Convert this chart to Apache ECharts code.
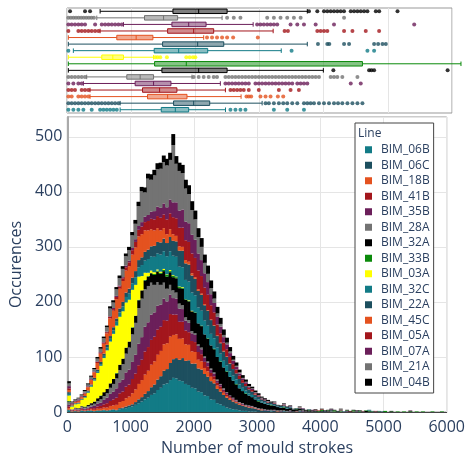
<!DOCTYPE html>
<html><head><meta charset="utf-8">
<script src="https://cdn.jsdelivr.net/npm/echarts/dist/echarts.min.js"></script>
<style>html,body{margin:0;padding:0;background:#fff}#c{width:468px;height:461px}</style>
</head><body><div id="c"></div><script>
// ---------- DATA ----------
const LINES = ['BIM_06B','BIM_06C','BIM_18B','BIM_41B','BIM_35B','BIM_28A','BIM_32A','BIM_33B','BIM_03A','BIM_32C','BIM_22A','BIM_45C','BIM_05A','BIM_07A','BIM_21A','BIM_04B'];
const BIN_WIDTH = 50;   // histogram bin width (mould strokes)
const N_BINS = 120;     // 0 .. 6000
const X_TICKS = [0,1000,2000,3000,4000,5000,6000];

// histogram counts per bin (bin i = [50*i, 50*i+50))
const H_06B = [3,1,1,1,2,1,2,2,1,2, 2,3,2,3,4,3,5,6,7,9, 10,13,16,19,23,26,31,34,40,44, 50,52,58,62,61,57,56,51,49,44, 43,37,36,30,29,23,22,16,14,11, 8,6,5,4,3,2,2,1,1,1, 0,0,0,0,1,0,0,0,1,0, 0,0,0,1];
const H_06C = [1,0,1,0,1,1,1,1,1,1, 1,1,1,1,1,1,2,2,3,3, 4,5,7,8,10,12,14,16,19,21, 25,26,31,34,37,38,42,42,45,44, 45,42,41,39,35,33,30,26,23,20, 18,16,14,12,10,9,8,7,6,5, 4,3,3,2,2,2,1,1,1,1, 1,1,0,1,1,0,1,0,1,0, 1,0,0,1,0,1,0,0,1,0, 0,1,1];
const H_18B = [3,1,1,1,1,1,1,2,2,3, 3,4,5,7,7,9,11,12,15,16, 20,23,28,31,35,37,41,42,45,46, 48,47,48,44,43,38,36,30,28,22, 21,16,15,11,10,8,7,6,5,4, 3,3,2,2,2,1,1,1,1,1, 1,1,0,0,0,0,1];
const H_41B = [3,1,1,1,2,1,2,2,3,4, 5,6,8,9,11,13,16,17,21,22, 26,29,34,37,42,43,45,45,46,44, 44,41,41,37,36,31,30,25,23,19, 18,14,13,11,9,7,6,5,4,3, 3,2,2,1,1,1,0,1,1,0, 0,1,0,0,0,0,0,0,0,0, 0,0,1];
const H_35B = [3,1,1,1,2,2,2,3,4,5, 6,8,10,13,14,17,20,22,26,27, 31,34,39,41,45,45,46,44,43,40, 39,35,35,30,29,24,23,18,17,14, 13,11,9,8,7,6,5,4,4,3, 3,2,2,2,1,2,1,1,1,1, 1,0,1,1,0,1,0,1,0,0, 1,0,0,0,1,0,0,0,0,0, 0,0,0,0,0,0,0,0,1,0, 0,1];
const H_28A = [5,1,2,2,2,2,3,3,4,5, 6,7,8,11,14,18,22,28,34,40, 50,58,65,70,68,66,58,50,43,36, 29,23,18,14,11,9,7,6,5,4, 3,3,3,2,2,2,2,2,1,2, 1,1,1,1,1,1,1,1,1,1, 1,1,1,1,1,1,1,1,1,1, 1,0,1,1,1,1,0,1,0,0, 0,0,1,1,1,0,1,0,0,0, 1];
const H_32A = [1,0,1,1,1,1,2,3,4,5, 6,7,8,8,9,9,10,10,11,11, 12,13,14,15,16,17,17,18,19,20, 21,22,23,24,26,28,30,32,34,36, 37,38,39,40,41,42,42,41,40,38, 37,34,31,28,25,22,20,18,16,14, 12,11,10,9,8,7,6,5,5,4, 4,3,3,3,2,2,2,2,1,1, 1,1,1,1,0,0,0,0,0,0, 0,0,0,0,2,1,0,0,0,0, 0,0,0,0,0,0,0,0,1];
const H_33B = [1,0,0,0,0,1,0,0,0,0, 1,0,0,0,0,1,0,0,0,0, 1,0,1,0,1,1,1,2,2,2, 2,3,2,3,2,2,2,1,1,0, 1,0,1,0,1,0,1,0,1,0, 1,0,0,1,0,0,1,0,0,0, 1,0,0,0,1,0,0,0,1,0, 0,0,1,0,0,0,1,0,0,1, 2,0,1,0,2,0,1,0,1,0, 2,0,1,0,1,1,1,0,1,0, 2,0,1,0,1,0,1,0,1,0, 1,0,1,0,0,1,0,0,1,0];
const H_03A = [10,5,6,8,11,16,22,30,38,46, 54,62,70,76,82,86,87,86,82,76, 68,56,42,26,13,6,4,3,2,2, 2,1,2,1,1,1,1,0,1,1];
const H_32C = [3,1,1,1,1,1,2,2,2,3, 3,4,5,5,6,7,8,9,10,11, 12,14,17,20,22,25,26,28,29,31, 32,33,34,35,36,36,36,35,34,33, 31,29,27,25,23,21,19,17,14,12, 11,10,9,8,7,6,5,4,4,3, 3,2,2,1,1,1,1,1,1,1, 1,0,0,0,0,0,0,0,0,0, 0,0,0,0,0,0,0,0,0,0, 0,0,0,1,0,1];
const H_22A = [3,1,1,1,1,2,2,2,3,3, 4,4,5,5,6,6,7,8,8,9, 10,11,13,14,16,17,18,20,21,22, 23,24,26,27,28,29,30,30,31,31, 30,30,29,28,27,25,23,21,19,17, 15,14,12,11,10,9,8,7,6,5, 5,4,4,3,3,3,2,2,2,2, 2,1,1,1,1,0,1,0,1,0, 0,1,0,1,0,0,1,1,0,0, 0,0,0,0,0,1,1,1,1,1];
const H_45C = [4,1,2,3,3,4,6,8,10,12, 15,18,21,32,30,35,36,38,40,41, 42,43,43,42,39,35,31,28,25,22, 19,16,14,12,10,8,7,6,5,4, 3,3,2,2,1,1,1,1,1,1, 1,1,0,0,0,0,0,0,0,1];
const H_05A = [3,1,1,1,1,1,1,1,1,2, 2,2,2,3,3,4,4,5,6,7, 8,10,12,14,15,17,19,20,22,23, 25,27,29,31,32,34,35,36,36,36, 35,34,32,30,28,26,23,20,17,15, 13,11,9,7,6,5,4,3,3,2, 2,1,1,1,0,1,0,0,1,0, 0,0,0,1,0,0,0,0,1,1, 1,0,0,0,0,0,1,0,0,1, 0,0,0,1,0,0,0,1];
const H_07A = [4,2,1,2,1,1,1,1,1,1, 1,1,1,1,2,2,2,2,3,3, 4,5,7,8,10,11,13,15,17,18, 20,22,25,27,29,31,33,34,34,34, 33,31,29,26,23,20,17,14,12,10, 9,7,6,5,4,3,3,2,2,1, 1,1,1,1,0,1,0,0,1,0, 1,0,0,0,1,0,0,1,0,0, 0,0,0,1,0,0,0,0,0,0, 0,0,0,0,0,0,0,0,0,0, 0,0,0,0,0,0,0,0,1];
const H_21A = [5,2,2,2,2,3,3,4,4,5, 6,7,8,14,10,12,13,15,17,19, 23,28,36,56,44,66,58,65,68,71, 75,76,72,104,70,72,66,60,53,45, 37,30,24,19,15,11,8,6,5,4, 3,3,2,2,2,1,1,1,1,1, 0,1,0,1,0,1,0,0,1,0, 0,0,0,1,0,0,0,0,0,0, 0,0,0,0,0,0,1];
const H_04B = [4,1,1,1,1,2,2,2,2,3, 3,3,3,4,4,4,5,5,5,6, 6,7,8,8,9,9,10,10,11,11, 12,12,13,20,14,15,15,16,16,16, 16,16,16,15,15,14,13,12,11,10, 9,8,7,6,5,5,4,4,3,3, 3,2,2,2,2,1,1,1,1,1, 1,1,0,1,0,1,0,0,1,0, 1,1,1,1,1,1,1,0,1,1, 1,1,1,0,0,0,0,0,0,0, 0,0,1];

// box plot stats: [lower whisker, Q1, median, Q3, upper whisker]
const BOX_06B = [828,1469,1688,1896,2470];
const BOX_06C = [828,1661,1974,2224,3041];
const BOX_18B = [359,1255,1568,1870,2713];
const BOX_41B = [359,1177,1443,1713,2469];
const BOX_35B = [255,1062,1349,1620,2390];
const BOX_28A = [307,932,1140,1349,1948];
const BOX_32A = [21,1479,2052,2495,3995];
const BOX_33B = [21,1365,1859,4604,6140];
const BOX_03A = [21,542,714,880,1349];
const BOX_32C = [99,1359,1740,2193,3339];
const BOX_22A = [21,1490,2036,2443,3745];
const BOX_45C = [21,776,1078,1339,2130];
const BOX_05A = [516,1568,1974,2286,3213];
const BOX_07A = [880,1635,1896,2167,2901];
const BOX_21A = [464,1208,1505,1724,2417];
const BOX_04B = [516,1651,2052,2495,3745];

// box plot outliers
const OUT_06B = [21,99,177,255,385,516,568,620,672,724,776,2547,2625,2703,2781,3224,3432,3693];
const OUT_06C = [21,73,125,177,229,281,333,385,438,490,542,594,646,698,750,802,3094,3146,3224,3302,3370,3432,3510,3589,3693,3745,3797,3849,3927,4005,4083,4161,4224,4291,4370,4448,4526,4604];
const OUT_18B = [21,73,177,229,281,333,2797,2833,2870,3015,3094,3172,3286,3370];
const OUT_41B = [21,73,125,229,281,333,2547,2599,2651,2703,2755,2833,2989,3302,3484,3614];
const OUT_35B = [21,99,177,229,2469,2521,2573,2625,2677,2729,2781,2833,2937,2989,3041,3094,3146,3198,3250,3302,3354,3406,3458,3510,3589,3641,3693,3745,4422,4578];
const OUT_28A = [21,73,125,177,229,281,1974,2052,2130,2208,2286,2338,2469,2521,2573,2625,2677,2729,2781,2833,2885,2937,2989,3041,3094,3146,3198,3250,3302,3354,3406,3458,3510,3562,3614,3666,3718,3771,3823,3875,3927,4109,4161,4213,4291,4526];
const OUT_32A = [4151,4708,4745,4786,5932];
const OUT_33B = [];
const OUT_03A = [1375,1411,1453,1557,1859,1911,1963,2000];
const OUT_32C = [21,3500,4682,4786];
const OUT_22A = [3911,4057,4088,4318,4396,4786,4849,4917,4969];
const OUT_45C = [2182,2260,2338,2417,2495,2589,2974];
const OUT_05A = [21,177,229,281,333,385,438,490,3391,3443,3901,3953,4005,4057,4318,4448,4656,4864];
const OUT_07A = [21,73,125,177,229,281,438,542,594,646,698,750,802,854,2963,3015,3067,3120,3172,3224,3276,3484,3589,3693,3875,4161,5411];
const OUT_21A = [20,60,100,140,180,220,260,300,340,380,420,2495,2599,2703,3120,3224,3328,3432,3536,3641,4318];
const OUT_04B = [47,281,359,3771,3901,4005,4057,4109,4161,4213,4265,4317,4422,4474,4526,4578,4630,4682,4813,4865,5151];

// ---------- STYLE ----------
const TEAL='#127b86', SLATE='#1d4f5f', ORANGE='#e4521f', RED='#a3161c', PURPLE='#6b1f5a', GRAY='#737373', BLACK='#000000', GREEN='#0b8a0b', YELLOW='#ffff00';
const COLORS = [TEAL,SLATE,ORANGE,RED,PURPLE,GRAY,BLACK,GREEN,YELLOW,TEAL,SLATE,ORANGE,RED,PURPLE,GRAY,BLACK];
const TXT = '#2a3f5f';
const FONT = '"Open Sans", sans-serif';
const Y_MAX = 536;
const BAR_PX = 3.9;   // slightly wider than a bin so adjacent bins have no seams

const HIST = [H_06B,H_06C,H_18B,H_41B,H_35B,H_28A,H_32A,H_33B,H_03A,H_32C,H_22A,H_45C,H_05A,H_07A,H_21A,H_04B];
const BOXES = [BOX_06B,BOX_06C,BOX_18B,BOX_41B,BOX_35B,BOX_28A,BOX_32A,BOX_33B,BOX_03A,BOX_32C,BOX_22A,BOX_45C,BOX_05A,BOX_07A,BOX_21A,BOX_04B];
const OUTS = [OUT_06B,OUT_06C,OUT_18B,OUT_41B,OUT_35B,OUT_28A,OUT_32A,OUT_33B,OUT_03A,OUT_32C,OUT_22A,OUT_45C,OUT_05A,OUT_07A,OUT_21A,OUT_04B];

const binStarts = [];
for (let i = 0; i < N_BINS; i++) binStarts.push(i * BIN_WIDTH);
function pad(a){ const r = a.slice(); while (r.length < N_BINS) r.push(0); return r; }
function rgba(hex, a){ const n = parseInt(hex.slice(1),16); return 'rgba('+((n>>16)&255)+','+((n>>8)&255)+','+(n&255)+','+a+')'; }

const series = [];
LINES.forEach((name, i) => {
  series.push({
    type:'bar', name, xAxisIndex:1, yAxisIndex:1, stack:'all',
    data: pad(HIST[i]), barWidth:BAR_PX,
    itemStyle:{color:COLORS[i]}, emphasis:{disabled:true}
  });
});
series.push({
  type:'boxplot', name:'box', xAxisIndex:0, yAxisIndex:0, boxWidth:[4.5,4.5], silent:true,
  data: BOXES.map((b,i)=>({value:b, itemStyle:{color:rgba(COLORS[i],0.5), borderColor:COLORS[i], borderWidth:1}}))
});
OUTS.forEach((o,i) => {
  series.push({
    type:'scatter', name:'out'+i, xAxisIndex:0, yAxisIndex:0, symbolSize:4, silent:true,
    data: o.map(v => [v, i]), itemStyle:{color:COLORS[i]}
  });
});

const chart = echarts.init(document.getElementById('c'), null, {renderer:'canvas'});
chart.setOption({
  animation:false,
  backgroundColor:'#fff',
  textStyle:{fontFamily:FONT},
  grid:[
    {left:67, right:16, top:8, height:105, show:true, borderColor:'#999', borderWidth:1},
    {left:67, right:16, top:117, bottom:48, show:true, borderColor:'#999', borderWidth:1}
  ],
  xAxis:[
    {gridIndex:0, type:'value', min:X_TICKS[0], max:X_TICKS[X_TICKS.length-1], interval:1000,
     axisLabel:{show:false}, axisTick:{show:false}, axisLine:{show:false},
     splitLine:{lineStyle:{color:'#e5e5e5'}}},
    {gridIndex:1, type:'category', data:binStarts, show:false},
    {gridIndex:1, type:'value', min:X_TICKS[0], max:X_TICKS[X_TICKS.length-1], interval:1000, position:'bottom',
     axisLine:{onZero:false, lineStyle:{color:'#444', width:1}}, axisTick:{show:false},
     axisLabel:{color:TXT, fontSize:16, margin:7, fontFamily:FONT, formatter:v => String(v)},
     splitLine:{lineStyle:{color:'#e5e5e5'}},
     name:'Number of mould strokes', nameLocation:'middle', nameGap:28,
     nameTextStyle:{color:TXT, fontSize:16, fontFamily:FONT}}
  ],
  yAxis:[
    {gridIndex:0, type:'category', data:LINES, show:false},
    {gridIndex:1, type:'value', min:0, max:Y_MAX, interval:100,
     axisLine:{show:true, lineStyle:{color:'#aaa', width:2}}, axisTick:{show:false},
     axisLabel:{color:TXT, fontSize:16, margin:5, showMaxLabel:false, fontFamily:FONT, formatter:v => String(v)},
     splitLine:{lineStyle:{color:'#e5e5e5'}},
     name:'Occurences', nameLocation:'middle', nameGap:38,
     nameTextStyle:{color:TXT, fontSize:16, fontFamily:FONT}}
  ],
  legend:{
    data:LINES, orient:'vertical', left:355, top:123, padding:[19,4,3,10],
    itemGap:0, itemWidth:7, itemHeight:7, icon:'rect', selectedMode:false,
    borderColor:'#444', borderWidth:1, backgroundColor:'#fff',
    textStyle:{color:TXT, fontSize:12, lineHeight:15.5, padding:[0,0,0,4], fontFamily:FONT}
  },
  graphic:[{type:'text', left:358, top:128, z:100,
    style:{text:'Line', fill:TXT, font:'12px "Open Sans", sans-serif'}}],
  series
});
</script></body></html>
